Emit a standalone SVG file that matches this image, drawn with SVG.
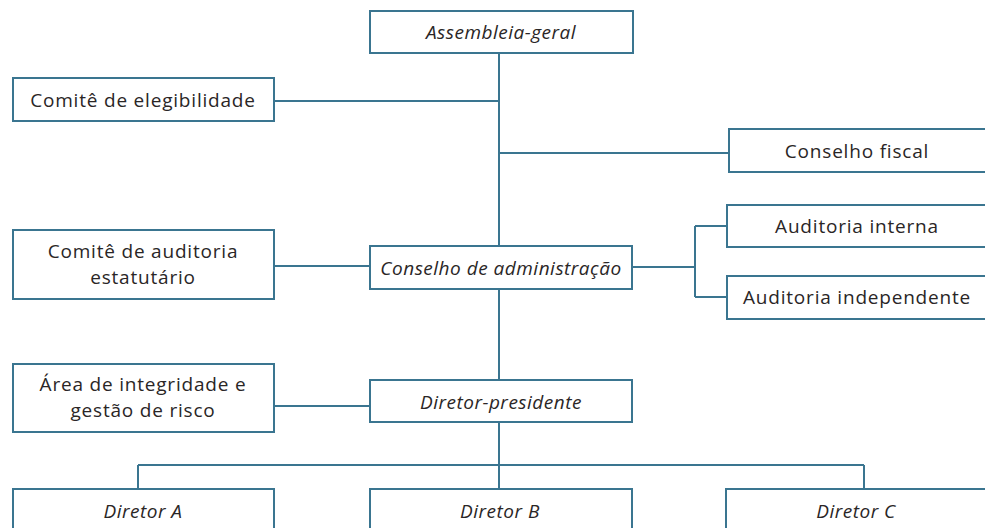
<svg xmlns="http://www.w3.org/2000/svg" width="985" height="528" viewBox="0 0 985 528">
<style>
.box{fill:#fff;stroke:#3a7590;stroke-width:2}
.ln{fill:none;stroke:#3a7590;stroke-width:2}
text{font-family:"Open Sans","Liberation Sans",sans-serif;font-size:19px;letter-spacing:0.8px;fill:#2a2626;text-anchor:middle}
.it{font-style:italic;letter-spacing:0.5px}
</style>
<rect width="985" height="528" fill="#fff"/>
<g id="connectors">
<path class="ln" d="M499 53V246M274 101H499M499 153H729M274 266H370M632 267H695M695 226V297M695 226H727M695 297H727M499 289V380M274 406H370M499 422V489M138 465H864M138 465V489M864 465V489"/>
</g>
<g id="assembleia"><rect class="box" x="370" y="11" width="263" height="42"/><text class="it" x="501" y="39">Assembleia-geral</text></g>
<g id="elegibilidade"><rect class="box" x="13" y="78" width="261" height="43"/><text x="143" y="107">Comitê de elegibilidade</text></g>
<g id="fiscal"><rect class="box" x="729" y="129" width="265" height="43"/><text x="857" y="158">Conselho fiscal</text></g>
<g id="auditoria-estatutario"><rect class="box" x="13" y="230" width="261" height="69"/><text x="143" y="258">Comitê de auditoria</text><text x="143" y="284">estatutário</text></g>
<g id="conselho-adm"><rect class="box" x="370" y="246" width="262" height="43"/><text class="it" x="501" y="275">Conselho de administração</text></g>
<g id="auditoria-interna"><rect class="box" x="727" y="205" width="267" height="42"/><text x="857" y="233">Auditoria interna</text></g>
<g id="auditoria-independente"><rect class="box" x="727" y="276" width="267" height="43"/><text x="857" y="304">Auditoria independente</text></g>
<g id="integridade"><rect class="box" x="13" y="364" width="261" height="68"/><text x="143" y="391">Área de integridade e</text><text x="143" y="417">gestão de risco</text></g>
<g id="diretor-presidente"><rect class="box" x="370" y="380" width="262" height="42"/><text class="it" x="501" y="409">Diretor-presidente</text></g>
<g id="diretor-a"><rect class="box" x="13" y="489" width="261" height="50"/><text class="it" x="143" y="518">Diretor A</text></g>
<g id="diretor-b"><rect class="box" x="370" y="489" width="262" height="50"/><text class="it" x="500" y="518">Diretor B</text></g>
<g id="diretor-c"><rect class="box" x="726" y="489" width="268" height="50"/><text class="it" x="856" y="518">Diretor C</text></g>
</svg>
